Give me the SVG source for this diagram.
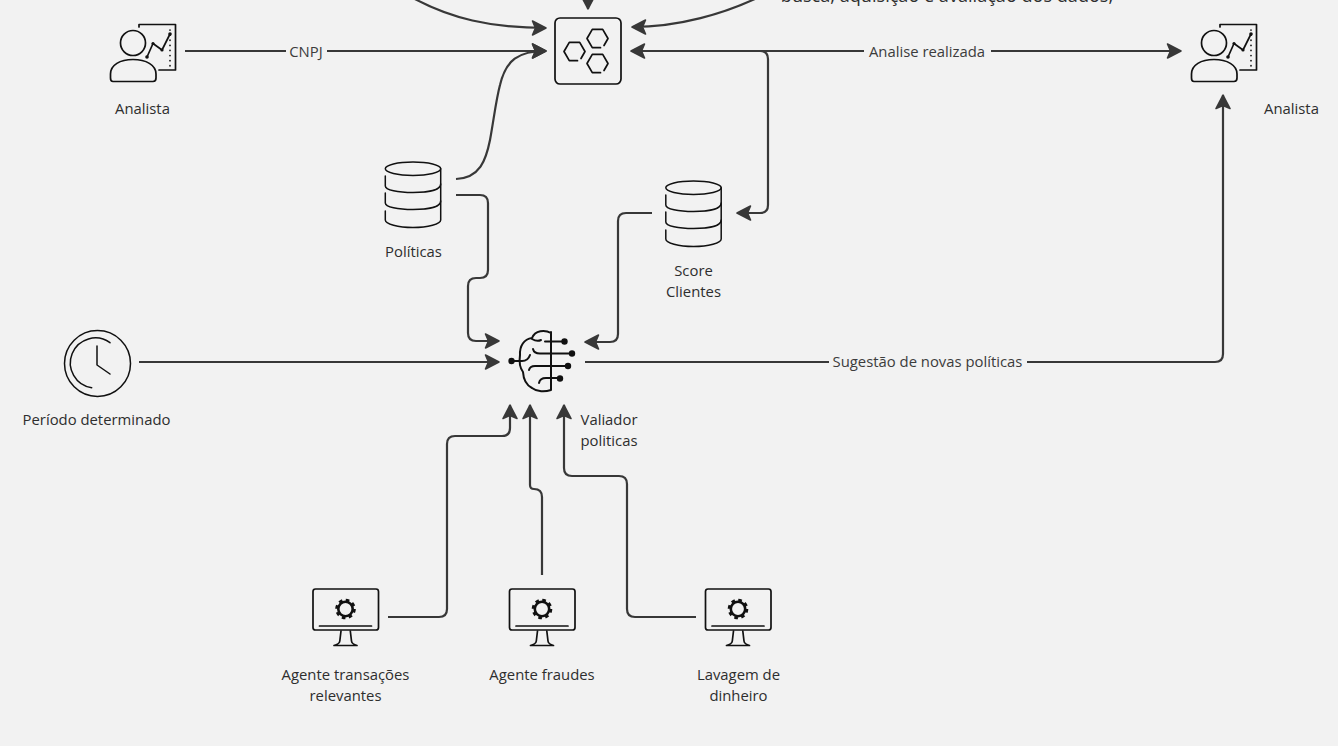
<svg xmlns="http://www.w3.org/2000/svg" width="1338" height="746" viewBox="0 0 1338 746">
<style>
text{font-family:"Open Sans","Noto Sans","Liberation Sans",sans-serif;font-size:14.85px;fill:#2e2e2e;text-anchor:middle}
.e{fill:#3c3c3c}
.t{font-size:18.1px;fill:#2e2e2e}
.c{fill:none;stroke:#383838;stroke-width:2.2}
.i{fill:none;stroke:#111;stroke-width:1.7;stroke-linecap:round;stroke-linejoin:round}
.l{stroke-width:1.5}
.b{stroke-width:2}
.d{fill:#111;stroke:none}
.g{fill:#f2f2f2;stroke:none}
</style>
<defs>
<marker id="a" markerUnits="userSpaceOnUse" viewBox="0 0 18 18" refX="15.5" refY="9" markerWidth="18" markerHeight="18" orient="auto-start-reverse"><path d="M2,2 L15.5,9 L2,16 L5,9 Z" fill="#383838" stroke="#383838" stroke-width="1.6" stroke-linejoin="round"/></marker>
<symbol id="analyst" overflow="visible" width="1" height="1">
<path class="i" d="M139,27 V24.5 H175.5 V70 H159"/>
<circle class="i" cx="133" cy="43" r="12.5"/>
<path class="i" d="M113,81.5 H153 Q156,81.5 156,78 V74 C156,65 146,59.5 133,59.5 C120,59.5 110.5,65 110.5,74 V78 Q110.5,81.5 113,81.5 Z"/>
<path class="i" d="M147,57 L153,43.5 L162,50 L170,34"/>
<path class="i" d="M170,30 V67" stroke-dasharray="0.1 5"/>
<circle class="d" cx="147" cy="57" r="1.8"/><circle class="d" cx="153" cy="43.5" r="1.6"/><circle class="d" cx="162" cy="50" r="1.6"/><circle class="d" cx="170" cy="34" r="1.8"/>
</symbol>
<symbol id="db" overflow="visible" width="1" height="1">
<ellipse class="i l" cx="413" cy="168.7" rx="27.7" ry="6.7"/>
<path class="i l" d="M440.7,168.7 V220 C440.7,224 428,227.5 413,227.5 C398,227.5 385.3,224 385.3,220 V211"/>
<path class="i l" d="M385.3,176 V186 C385.3,190 398,192.5 413,192.5 C428,192.5 440.7,190 440.7,184"/>
<path class="i l" d="M385.3,193 V203 C385.3,207 398,209.5 413,209.5 C428,209.5 440.7,207 440.7,201"/>
</symbol>
<path id="hex" class="i" d="M3,9.2 H-5.2 L-10.5,0 L-5.2,-9.2 H5.2 L10.5,0 L6.5,7"/>
<symbol id="monitor" overflow="visible" width="1" height="1">
<rect class="i" x="313" y="589" width="65.5" height="41" rx="2.5"/>
<path class="i" d="M319.5,626 H371.5"/>
<circle cx="345.5" cy="609" r="7.2" fill="none" stroke="#111" stroke-width="2.6"/>
<circle cx="345.5" cy="609" r="9" fill="none" stroke="#111" stroke-width="2.6" stroke-dasharray="3.6 3.47"/>
<path class="i" d="M341,631 L339.8,641 Q339.5,644 334,645.5 H357 Q351.8,644 351.5,641 L350.3,631"/>
</symbol>
</defs>
<rect width="1338" height="746" fill="#f2f2f2"/>
<g id="connectors">
<path class="c" marker-end="url(#a)" d="M413,-2 C450,18 490,28 546,28"/>
<path class="c" marker-end="url(#a)" d="M588,-10 V9"/>
<path class="c" marker-end="url(#a)" d="M757,-2 C725,13 680,27 632,27"/>
<path class="c" marker-end="url(#a)" d="M185,51 H546"/>
<path class="c" marker-end="url(#a)" d="M456,179 C480,178 486,160 490,140 C494,118 496,100 500,85 C506,60 518,51 546,51"/>
<path class="c" marker-end="url(#a)" d="M456,195 H480 Q488,195 488,203 V270 Q488,278 480,278 H476 Q468,278 468,286 V333 Q468,341 476,341 H499"/>
<path class="c" marker-start="url(#a)" marker-end="url(#a)" d="M631,51 H1181"/>
<path class="c" marker-end="url(#a)" d="M640,51 H760 Q768,51 768,59 V205 Q768,213 760,213 H737"/>
<path class="c" marker-end="url(#a)" d="M652,213 H626 Q618,213 618,221 V334 Q618,342 610,342 H585"/>
<path class="c" marker-end="url(#a)" d="M139,362 H499"/>
<path class="c" marker-end="url(#a)" d="M585,362 H1215 Q1223,362 1223,354 V95"/>
<path class="c" marker-end="url(#a)" d="M388,617 H439 Q447,617 447,609 V444 Q447,436 455,436 H502 Q510,436 510,428 V405"/>
<path class="c" marker-end="url(#a)" d="M542,575 V497 Q542,489 534,489 Q530,489 530,485 V405"/>
<path class="c" marker-end="url(#a)" d="M696,617 H635 Q627,617 627,609 V484 Q627,476 619,476 H572 Q564,476 564,468 V405"/>
<rect class="g" x="286" y="42" width="41" height="18"/>
<text class="e" x="306" y="57">CNPJ</text>
<rect class="g" x="864" y="42" width="127" height="18"/>
<text class="e" x="927" y="57">Analise realizada</text>
<rect class="g" x="829" y="353" width="198" height="18"/>
<text class="e" x="927.5" y="367">Sugestão de novas políticas</text>
</g>
<g id="note"><text class="t" x="947" y="2">busca, aquisição e avaliação dos dados,</text></g>
<g id="analista-1"><use href="#analyst"/><text x="142.5" y="114">Analista</text></g>
<g id="analista-2"><use href="#analyst" x="1081"/><text x="1291.5" y="114">Analista</text></g>
<g id="componente">
<rect class="i" x="555" y="18" width="66" height="66" rx="5"/>
<use href="#hex" x="574.5" y="51.5"/><use href="#hex" x="597.5" y="38.5"/><use href="#hex" x="597.5" y="63.5"/>
</g>
<g id="politicas"><use href="#db"/><text x="413.5" y="257">Políticas</text></g>
<g id="score"><use href="#db" x="280.5" y="19"/><text x="693.5" y="276">Score</text><text x="693.5" y="297">Clientes</text></g>
<g id="periodo">
<circle class="i l" cx="97.5" cy="363.5" r="33"/>
<path class="i l" d="M110,342.7 A25,25 0 1 0 91.7,387.7"/>
<path class="i l" d="M97,346 V365 L110,374"/>
<text x="96.5" y="425">Período determinado</text>
</g>
<g id="validador">
<path class="i b" d="M551,332 V390 M551,333 C545,329.5 535,330 532,338 C524,339 519.5,346 520,355 C519,362 520,368 523,372 C523.5,380 526,385 532,388 C537,392 545,392 551,390"/>
<path class="i b" d="M532,339 Q537,342 541,340 M545,341.5 H564 M533,349 Q534,353.5 540,353.5 H572 M529,370 Q530,366 535,366 H568 M539,383 Q540,378 546,378 H560 M511,361 H522 Q528,361 530,355"/>
<circle class="d" cx="564.5" cy="341.5" r="3.2"/><circle class="d" cx="572" cy="353.5" r="3.2"/><circle class="d" cx="568" cy="366" r="3.2"/><circle class="d" cx="560" cy="378.5" r="3.2"/><circle class="d" cx="511.5" cy="361" r="3.2"/>
<text x="609" y="425">Valiador</text><text x="609" y="446">politicas</text>
</g>
<g id="agente-transacoes"><use href="#monitor"/><text x="345.5" y="680">Agente transações</text><text x="345.5" y="701">relevantes</text></g>
<g id="agente-fraudes"><use href="#monitor" x="196.5"/><text x="542" y="680">Agente fraudes</text></g>
<g id="lavagem"><use href="#monitor" x="392.5"/><text x="738.5" y="680">Lavagem de</text><text x="738.5" y="701">dinheiro</text></g>
</svg>
